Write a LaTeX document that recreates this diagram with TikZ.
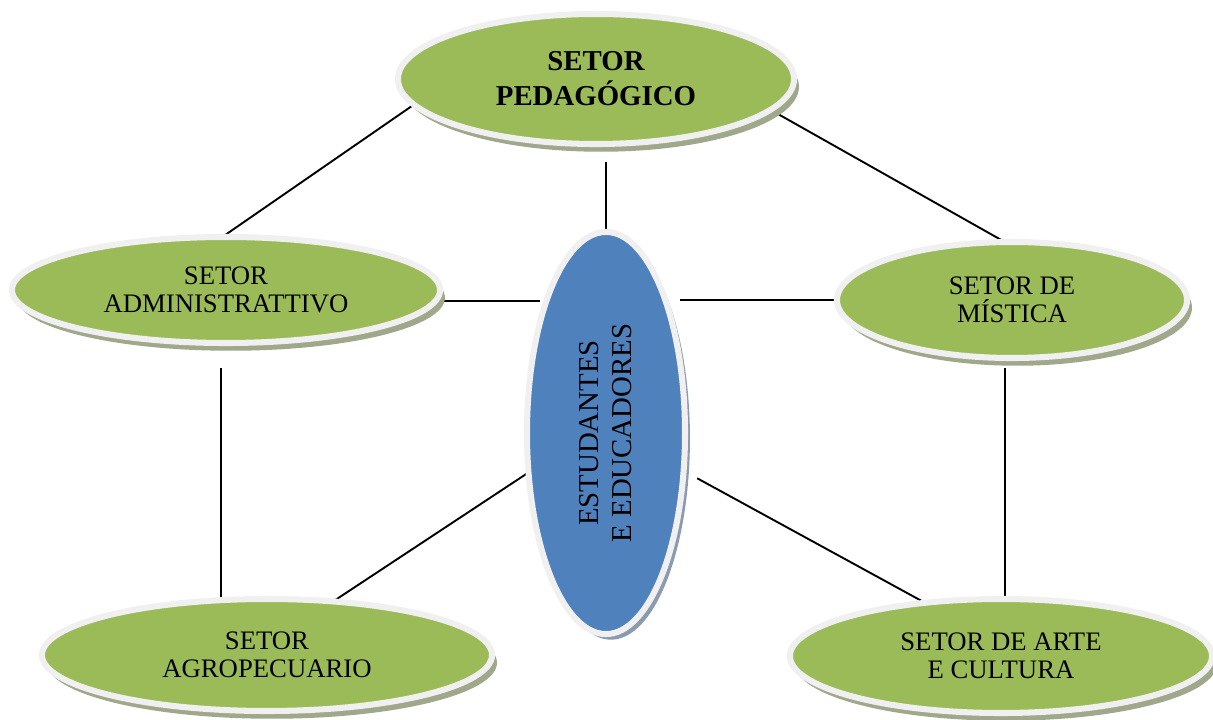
\documentclass[tikz,border=0pt]{standalone}
\usepackage{fontspec}
\setmainfont{Liberation Serif}
\usetikzlibrary{shapes.geometric,shadows,backgrounds}
\definecolor{sectorgreen}{RGB}{155,187,89}
\definecolor{centerblue}{RGB}{79,129,189}
\definecolor{rimgray}{RGB}{240,240,240}
\definecolor{shadegreen}{RGB}{160,168,140}
\definecolor{shadeblue}{RGB}{140,154,176}

\begin{document}
\begin{tikzpicture}[
    x=0.025cm, y=-0.025cm,
    bubble/.style={ellipse, draw=rimgray, line width=4.3pt, inner sep=0pt, outer sep=0pt, align=center},
    sector/.style={bubble, fill=sectorgreen, font=\fontsize{19}{20}\selectfont,
        drop shadow={shadow xshift=3.5pt, shadow yshift=-5.5pt, fill=shadegreen, opacity=1}},
    hub/.style={bubble, fill=centerblue,
        drop shadow={shadow xshift=3.5pt, shadow yshift=-4pt, fill=shadeblue, opacity=1}},
    link/.style={line width=1.35pt, black}
]
    \useasboundingbox (0,0) rectangle (1213,720);

    % Sectors
    \node[sector, font=\bfseries\fontsize{20.5}{25}\selectfont, minimum width=9.9cm, minimum height=3.25cm] (ped) at (596,79) {SETOR\\PEDAGÓGICO};
    \node[sector, minimum width=10.7cm, minimum height=2.65cm] (adm) at (226,290) {SETOR\\ADMINISTRATTIVO};
    \node[sector, minimum width=8.75cm, minimum height=2.9cm] (mis) at (1012,300) {SETOR DE\\MÍSTICA};
    \node[sector, minimum width=11.25cm, minimum height=2.8cm] (agro) at (267,655) {SETOR\\AGROPECUARIO};
    \node[sector, minimum width=10.55cm, minimum height=2.85cm] (arte) at (1001,656) {SETOR DE ARTE\\E CULTURA};

    % Centre
    \node[hub, minimum width=3.95cm, minimum height=10.05cm] (cen) at (606,433)
        {\hspace{4pt}\rotatebox{90}{\fontsize{20.5}{23.5}\selectfont\begin{tabular}{@{}c@{}}ESTUDANTES\\E EDUCADORES\end{tabular}}};

    % Links (behind the ellipses)
    \begin{scope}[on background layer]
        \draw[link] (ped.188) -- (adm.94);
        \draw[link] (ped.-10) -- (mis.97);
        \draw[link, shorten >=13pt] (cen.north) -- (cen.north |- ped.south);
        \draw[link, shorten >=-9pt] (adm.-3) -- (adm.-3 -| cen.west);
        \draw[link, shorten >=-3.5pt] (mis.west) -- (mis.west -| cen.east);
        \draw[link, shorten <=18pt] (adm.265) -- (adm.265 |- agro.north);
        \draw[link, shorten <=7pt] (mis.263) -- (mis.263 |- arte.north);
        \draw[link] (cen.207) -- (agro.39);
        \draw[link, shorten <=11pt] (cen.-26) -- (arte.145);
    \end{scope}
\end{tikzpicture}
\end{document}
